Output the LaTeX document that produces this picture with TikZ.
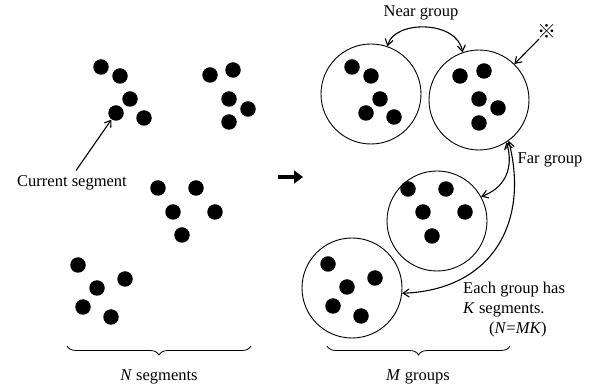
\documentclass[tikz,border=0pt]{standalone}
\usepackage{fontspec}
\setmainfont{Liberation Serif}
\newfontfamily\symfont{Noto Sans CJK SC}
\usetikzlibrary{arrows.meta,decorations.pathreplacing}
\begin{document}
\begin{tikzpicture}[x=1pt,y=-1pt,
  dot/.style={circle,fill=black,inner sep=0pt,minimum size=15.5pt},
  grp/.style={circle,draw,line width=0.9pt,inner sep=0pt,minimum size=100pt},
  arr/.style={line width=1.1pt,-{Straight Barb[length=6pt,width=8pt]}},
  arrs/.style={line width=1.1pt,{Straight Barb[length=6pt,width=8pt]}-{Straight Barb[length=6pt,width=8pt]}},
  lbl/.style={inner sep=0pt,font=\fontsize{16.5}{20}\selectfont},
  brc/.style={line width=0.8pt,decorate,decoration={brace,amplitude=9pt}}]
\useasboundingbox (0,0) rectangle (606,387);
% left: N segments
\node[dot] (a1) at (101,67) {};
\node[dot] (a2) at (120,76) {};
\node[dot] (a3) at (130,99) {};
\node[dot] (a4) at (116,113) {};
\node[dot] (a5) at (144,118) {};
\node[dot] (b1) at (210,75) {};
\node[dot] (b2) at (233,70) {};
\node[dot] (b3) at (229,99) {};
\node[dot] (b4) at (248,109) {};
\node[dot] (b5) at (229,122) {};
\node[dot] (e1) at (158,188) {};
\node[dot] (e2) at (196,188) {};
\node[dot] (e3) at (173,212) {};
\node[dot] (e4) at (215,212) {};
\node[dot] (e5) at (182,235) {};
\node[dot] (f1) at (78,265) {};
\node[dot] (f2) at (125,279) {};
\node[dot] (f3) at (97,288) {};
\node[dot] (f4) at (83,307) {};
\node[dot] (f5) at (111,317) {};
\node[lbl] (cur) at (72,183) {Current segment};
\draw[arr] ([xshift=4pt,yshift=5pt]cur.north) -- (a4);
\coordinate (nb1) at (251,346);
\coordinate (nb2) at (67,346);
\draw[brc] (nb1) -- (nb2);
\node[lbl] (nseg) at (159,377) {\textit{N} segments};
% big arrow
\coordinate (ar1) at (278,177);
\coordinate (ar2) at (303,177);
\draw[line width=3.8pt,-{Triangle[length=9pt,width=13pt]}] (ar1) -- (ar2);
% right: M groups
\node[grp] (c1) at (371,94) {};
\node[grp] (c2) at (479,100) {};
\node[grp] (c3) at (437,221) {};
\node[grp] (c4) at (352,288) {};
\node[dot] (g11) at (352,67) {};
\node[dot] (g12) at (371,76) {};
\node[dot] (g13) at (380,99) {};
\node[dot] (g14) at (366,113) {};
\node[dot] (g15) at (394,117) {};
\node[dot] (g21) at (460,76) {};
\node[dot] (g22) at (484,71) {};
\node[dot] (g23) at (479,99) {};
\node[dot] (g24) at (498,108) {};
\node[dot] (g25) at (479,123) {};
\node[dot] (g31) at (408,189) {};
\node[dot] (g32) at (446,189) {};
\node[dot] (g33) at (423,212) {};
\node[dot] (g34) at (465,212) {};
\node[dot] (g35) at (432,236) {};
\node[dot] (g41) at (328,264) {};
\node[dot] (g42) at (375,278) {};
\node[dot] (g43) at (347,287) {};
\node[dot] (g44) at (333,306) {};
\node[dot] (g45) at (361,316) {};
\node[lbl] (near) at (421,13) {Near group};
\draw[arrs] (c1.71) .. controls (394,20) and (457,20) .. (c2.109);
\node[inner sep=0pt,font=\symfont\fontsize{19}{19}\selectfont] (kome) at (547,31) {※};
\draw[arr] ([xshift=-8pt,yshift=-8pt]kome.center) -- (c2);
\node[lbl] (far) at (550,160) {Far group};
\draw[arrs] (c2.-57) .. controls (514,168) and (505,188) .. (c3.29);
\draw[arrs] (c2.-54) .. controls (530,225) and (490,290) .. (c4.-6);
\node[lbl,align=left,anchor=north west] (each) at (463,282)
  {Each group has\\\textit{K} segments.\\\hspace{26pt}(\textit{N}=\textit{MK})};
\coordinate (mb1) at (510,346);
\coordinate (mb2) at (327,346);
\draw[brc] (mb1) -- (mb2);
\node[lbl] (mgrp) at (418,377) {\textit{M} groups};
\end{tikzpicture}
\end{document}
